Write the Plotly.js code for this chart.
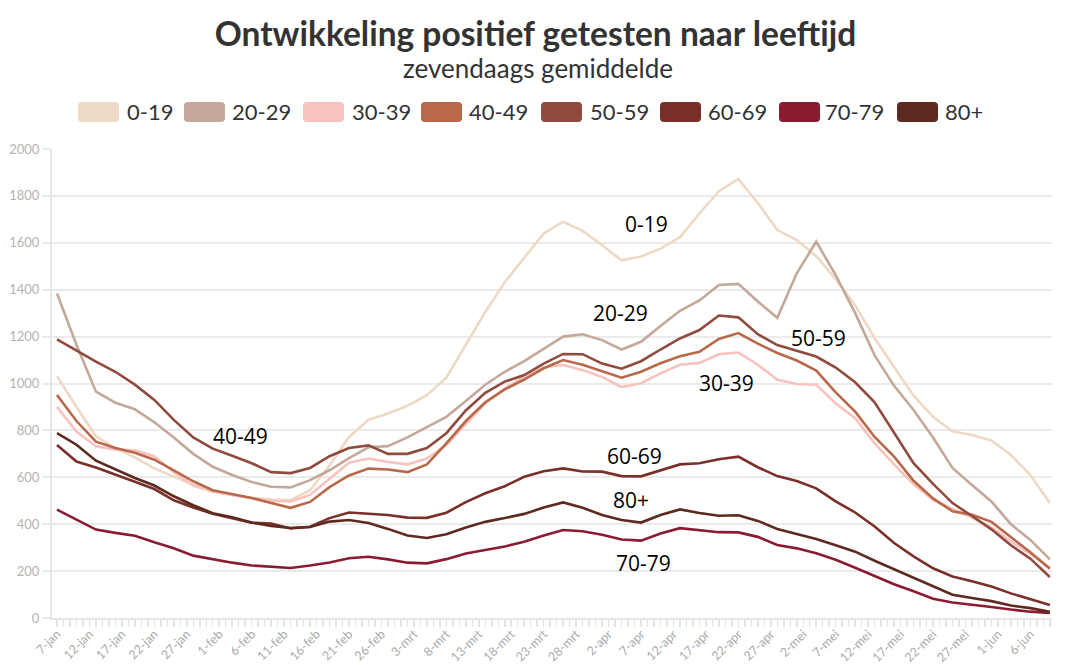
<!DOCTYPE html>
<html>
<head>
<meta charset="utf-8">
<script src="https://cdn.plot.ly/plotly-3.0.1.min.js"></script>
<style>
html,body{margin:0;padding:0;background:#fff;}
#chart{width:1071px;height:665px;}
</style>
</head>
<body>
<div id="chart"></div>
<script>
// ---- Data ----
const startDate = '2021-01-07';
const stepDays = 3;

const ageGroups = ['0-19', '20-29', '30-39', '40-49', '50-59', '60-69', '70-79', '80+'];
const groupColors = ['#EDD9C4', '#C4A99A', '#F8C2BF', '#B8694A', '#8F4B3E', '#7A3028', '#8B1C2F', '#5E2A1F'];

const v0_19 = [1032, 900, 775, 725, 685, 638, 603, 568, 543, 525,
  513, 505, 503, 545, 650, 772, 845, 872, 905, 950,
  1025, 1165, 1305, 1432, 1535, 1640, 1690, 1651, 1590, 1525,
  1542, 1575, 1624, 1725, 1820, 1872, 1770, 1655, 1612, 1543,
  1445, 1333, 1193, 1068, 948, 858, 796, 780, 757, 695,
  610, 490];
const v20_29 = [1384, 1165, 965, 918, 890, 835, 770, 700, 645, 610,
  580, 560, 557, 588, 630, 682, 728, 733, 770, 815,
  858, 925, 995, 1050, 1095, 1148, 1200, 1210, 1185, 1145,
  1178, 1245, 1310, 1354, 1420, 1425, 1350, 1280, 1470, 1605,
  1462, 1300, 1120, 990, 887, 770, 640, 567, 497, 400,
  333, 250];
const v30_39 = [900, 795, 732, 718, 715, 690, 622, 565, 538, 524,
  511, 500, 497, 525, 595, 662, 680, 665, 655, 680,
  738, 828, 915, 978, 1030, 1068, 1079, 1057, 1028, 985,
  1001, 1043, 1080, 1088, 1125, 1132, 1080, 1016, 998, 995,
  915, 852, 745, 655, 570, 503, 465, 428, 386, 327,
  272, 215];
const v40_49 = [951, 840, 752, 725, 705, 675, 630, 583, 545, 530,
  512, 490, 470, 495, 558, 608, 637, 633, 622, 655,
  745, 840, 920, 975, 1017, 1065, 1100, 1080, 1053, 1025,
  1050, 1086, 1116, 1135, 1190, 1215, 1170, 1130, 1098, 1055,
  962, 880, 772, 688, 585, 510, 455, 440, 410, 345,
  280, 210];
const v50_59 = [1188, 1140, 1093, 1050, 995, 930, 845, 770, 722, 692,
  660, 622, 618, 640, 690, 725, 736, 700, 700, 725,
  788, 885, 960, 1008, 1036, 1085, 1126, 1125, 1085, 1063,
  1095, 1145, 1192, 1228, 1290, 1282, 1210, 1164, 1138, 1115,
  1068, 1005, 920, 790, 660, 572, 490, 435, 378, 310,
  253, 175];
const v60_69 = [738, 667, 642, 613, 581, 550, 502, 471, 445, 425,
  406, 403, 382, 389, 426, 450, 446, 439, 428, 427,
  449, 494, 532, 562, 602, 626, 638, 625, 624, 605,
  604, 631, 655, 660, 677, 688, 643, 605, 584, 553,
  497, 450, 390, 320, 263, 212, 177, 157, 134, 105,
  80, 55];
const v70_79 = [462, 421, 377, 363, 351, 323, 297, 266, 250, 236,
  224, 217, 213, 224, 237, 255, 261, 250, 236, 233,
  251, 275, 291, 305, 325, 352, 375, 370, 355, 335,
  330, 360, 383, 373, 366, 365, 346, 311, 297, 276,
  248, 214, 178, 144, 114, 82, 66, 58, 47, 36,
  27, 22];
const v80plus = [788, 739, 671, 634, 597, 565, 519, 481, 447, 430,
  407, 393, 384, 388, 411, 418, 405, 380, 352, 341,
  357, 386, 410, 426, 444, 471, 493, 470, 439, 418,
  407, 439, 463, 448, 436, 438, 414, 380, 357, 337,
  310, 283, 244, 207, 173, 134, 99, 85, 72, 53,
  42, 27];

const tickLabels = ['7-jan','12-jan','17-jan','22-jan','27-jan','1-feb','6-feb','11-feb','16-feb','21-feb','26-feb',
  '3-mrt','8-mrt','13-mrt','18-mrt','23-mrt','28-mrt','2-apr','7-apr','12-apr','17-apr','22-apr','27-apr',
  '2-mei','7-mei','12-mei','17-mei','22-mei','27-mei','1-jun','6-jun'];

// in-chart labels (as placed in the reference)
const labelText = ['0-19', '20-29', '30-39', '50-59', '40-49', '60-69', '80+', '70-79'];
const labelDate = ['2021-04-07 21:36', '2021-04-03 21:36', '2021-04-20 05:00', '2021-05-04 07:00',
  '2021-02-04 08:00', '2021-04-06 01:00', '2021-04-05 10:00', '2021-04-07 10:00'];
const labelValue = [1680, 1300, 1002, 1194, 776, 691, 503, 235];

// ---- Build ----
const DAY = 86400000;
const t0 = Date.parse(startDate + 'T00:00:00Z');
function isoDay(ms){ return new Date(ms).toISOString().slice(0,10); }

const seriesValues = [v0_19, v20_29, v30_39, v40_49, v50_59, v60_69, v70_79, v80plus];
const dates = v0_19.map((_, i) => isoDay(t0 + i * stepDays * DAY));
const tickVals = tickLabels.map((_, i) => isoDay(t0 + i * 5 * DAY));

const traces = seriesValues.map((vals, i) => ({
  type: 'scatter',
  mode: 'lines',
  name: ageGroups[i],
  x: dates,
  y: vals,
  line: {color: groupColors[i], width: 2.6},
  hoverinfo: 'skip',
  showlegend: false
}));

// plot area geometry (pixels)
const W = 1071, H = 665;
const M = {l: 52, r: 19, t: 149, b: 47};
const PW = W - M.l - M.r, PH = H - M.t - M.b;
const px2x = px => (px - M.l) / PW;
const py2y = py => (H - M.b - py) / PH;

// legend (drawn as rounded swatches + text)
const legSwatchLeft = [78, 184, 303, 421, 541, 660, 779, 897];
const legTextLeft = [127, 232, 352, 469, 590, 708, 825, 945];
const legW = 41, legTop = 102, legBot = 122, legR = 4;

function roundRect(x0p, y0p, x1p, y1p, r){
  const X = px2x, Y = py2y;
  return 'M' + X(x0p + r) + ',' + Y(y0p) +
    ' L' + X(x1p - r) + ',' + Y(y0p) +
    ' Q' + X(x1p) + ',' + Y(y0p) + ' ' + X(x1p) + ',' + Y(y0p + r) +
    ' L' + X(x1p) + ',' + Y(y1p - r) +
    ' Q' + X(x1p) + ',' + Y(y1p) + ' ' + X(x1p - r) + ',' + Y(y1p) +
    ' L' + X(x0p + r) + ',' + Y(y1p) +
    ' Q' + X(x0p) + ',' + Y(y1p) + ' ' + X(x0p) + ',' + Y(y1p - r) +
    ' L' + X(x0p) + ',' + Y(y0p + r) +
    ' Q' + X(x0p) + ',' + Y(y0p) + ' ' + X(x0p + r) + ',' + Y(y0p) + ' Z';
}

const shapes = ageGroups.map((g, i) => ({
  type: 'path', xref: 'paper', yref: 'paper',
  path: roundRect(legSwatchLeft[i], legTop, legSwatchLeft[i] + legW, legBot, legR),
  fillcolor: groupColors[i], line: {width: 0}, layer: 'above'
}));

const annotations = [];
ageGroups.forEach((g, i) => {
  annotations.push({
    xref: 'paper', yref: 'paper', x: px2x(legTextLeft[i] - 2), y: py2y(112),
    xanchor: 'left', yanchor: 'middle', showarrow: false, text: g,
    font: {family: 'Lato, sans-serif', size: 22, color: '#333'}
  });
});
annotations.push({
  xref: 'paper', yref: 'paper', x: px2x(537.5), y: py2y(68),
  xanchor: 'center', yanchor: 'middle', showarrow: false,
  text: 'zevendaags gemiddelde',
  font: {family: 'Lato, sans-serif', size: 26, color: '#333'}
});
labelText.forEach((t, i) => {
  annotations.push({
    xref: 'x', yref: 'y', x: labelDate[i], y: labelValue[i],
    xanchor: 'center', yanchor: 'middle', showarrow: false, text: t,
    font: {family: 'Open Sans, sans-serif', size: 21, color: '#000'}
  });
});

const layout = {
  width: W, height: H,
  margin: M,
  paper_bgcolor: '#fff', plot_bgcolor: '#fff',
  showlegend: false,
  title: {
    text: '<b>Ontwikkeling positief getesten naar leeftijd</b>',
    font: {family: 'Lato, sans-serif', size: 33.5, color: '#333'},
    x: 0.5, xref: 'container', xanchor: 'center',
    y: 1 - 34 / H, yref: 'container', yanchor: 'middle'
  },
  xaxis: {
    type: 'date',
    range: ['2021-01-06 05:30', '2021-06-09 08:00'],
    tickmode: 'array', tickvals: tickVals, ticktext: tickLabels,
    tickangle: -45,
    tickfont: {family: 'Lato, sans-serif', size: 12.5, color: '#ababab'},
    ticks: 'outside', ticklen: 7, tickwidth: 1.5, tickcolor: '#e4e4e4',
    ticklabelstandoff: -5,
    minor: {tickmode: 'linear', tick0: startDate, dtick: DAY, ticks: 'outside', ticklen: 7, tickwidth: 1.5, tickcolor: '#e4e4e4', showgrid: false},
    showgrid: false, zeroline: false,
    showline: true, linecolor: '#e6e6e6', linewidth: 2,
    fixedrange: true
  },
  yaxis: {
    range: [0, 2000], tickmode: 'linear', tick0: 0, dtick: 200,
    showgrid: true, gridcolor: '#ebebeb', gridwidth: 2,
    ticks: 'outside', ticklen: 8, tickwidth: 2, tickcolor: '#ebebeb',
    showline: true, linecolor: '#e6e6e6', linewidth: 2,
    zeroline: false,
    tickfont: {family: 'Lato, sans-serif', size: 13, color: '#b3b3b3'},
    fixedrange: true
  },
  shapes: shapes,
  annotations: annotations
};

Plotly.newPlot('chart', traces, layout, {displayModeBar: false, staticPlot: true});
</script>
</body>
</html>
